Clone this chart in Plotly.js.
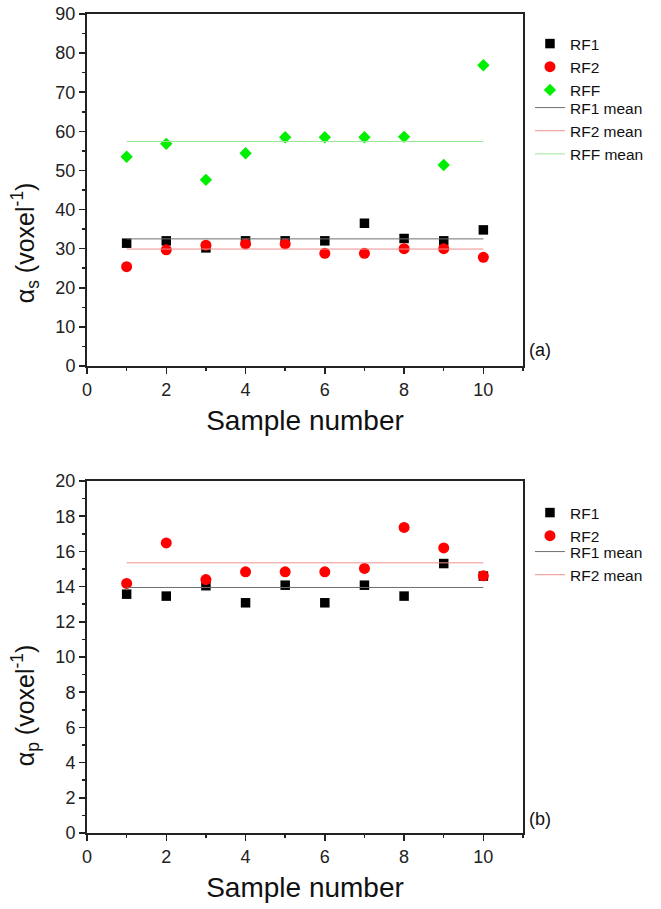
<!DOCTYPE html>
<html>
<head>
<meta charset="utf-8">
<script src="https://cdn.plot.ly/plotly-3.0.1.min.js"></script>
<style>html,body{margin:0;padding:0;background:#fff;}#chart{width:661px;height:909px;}</style>
</head>
<body>
<div id="chart"></div>
<script>
// ---- data ----
const samples = [1, 2, 3, 4, 5, 6, 7, 8, 9, 10];

// (a) alpha_s
const aRF1 = [31.4, 32.0, 30.2, 32.0, 32.0, 32.0, 36.5, 32.6, 32.0, 34.8];
const aRF2 = [25.4, 29.7, 30.9, 31.2, 31.2, 28.8, 28.8, 30.0, 30.0, 27.8];
const aRFF = [53.5, 56.8, 47.6, 54.4, 58.5, 58.5, 58.5, 58.6, 51.4, 76.9];
const aMeans = [32.5, 29.9, 57.4]; // RF1 mean, RF2 mean, RFF mean

// (b) alpha_p
const bRF1 = [13.57, 13.46, 14.05, 13.08, 14.08, 13.08, 14.08, 13.46, 15.31, 14.6];
const bRF2 = [14.18, 16.48, 14.4, 14.84, 14.84, 14.84, 15.03, 17.36, 16.2, 14.61];
const bMeans = [13.95, 15.35]; // RF1 mean, RF2 mean

const seriesNames = ['RF1', 'RF2', 'RFF'];
const meanNames = ['RF1 mean', 'RF2 mean', 'RFF mean'];
const yTitles = ['α<sub>s</sub> (voxel<sup>-1</sup>)', 'α<sub>p</sub> (voxel<sup>-1</sup>)'];
const xTitle = 'Sample number';
const panelLabels = ['(a)', '(b)'];

// ---- styles ----
const FONT = 'Arial, "Liberation Sans", sans-serif';
const sqMarker = {symbol: 'square', size: 9.5, color: '#000'};
const ciMarker = {symbol: 'circle', size: 11, color: '#ff0000'};
const diMarker = {symbol: 'diamond', size: 9.5, color: '#00ee00'};
const meanColors = ['#6f6f6f', '#f08f8f', '#9be89b'];
const lineEnds = [samples[0], samples[samples.length - 1]];

function pts(y, name, marker, xa, ya, leg) {
  return {x: samples, y: y, name: name, type: 'scatter', mode: 'markers', marker: marker,
          xaxis: xa, yaxis: ya, legend: leg};
}
function meanLine(v, name, color, xa, ya, leg) {
  return {x: lineEnds, y: [v, v], name: name, type: 'scatter', mode: 'lines',
          line: {color: color, width: 1}, xaxis: xa, yaxis: ya, legend: leg};
}

const data = [
  pts(aRF1, seriesNames[0], sqMarker, 'x', 'y', 'legend'),
  pts(aRF2, seriesNames[1], ciMarker, 'x', 'y', 'legend'),
  pts(aRFF, seriesNames[2], diMarker, 'x', 'y', 'legend'),
  meanLine(aMeans[0], meanNames[0], meanColors[0], 'x', 'y', 'legend3'),
  meanLine(aMeans[1], meanNames[1], meanColors[1], 'x', 'y', 'legend3'),
  meanLine(aMeans[2], meanNames[2], meanColors[2], 'x', 'y', 'legend3'),
  pts(bRF1, seriesNames[0], sqMarker, 'x2', 'y2', 'legend2'),
  pts(bRF2, seriesNames[1], ciMarker, 'x2', 'y2', 'legend2'),
  meanLine(bMeans[0], meanNames[0], meanColors[0], 'x2', 'y2', 'legend4'),
  meanLine(bMeans[1], meanNames[1], meanColors[1], 'x2', 'y2', 'legend4')
];

const H = 909, T = 14, B = 76, L = 87, R = 136;
const PH = H - T - B, PW = 661 - L - R;
function py(pix) { return (H - B - pix) / PH; }
function px(pix) { return (pix - L) / PW; }

function xaxis(anchor) {
  return {
    domain: [0, 1], range: [0, 11], dtick: 2, tick0: 0, ticks: 'outside', ticklen: 6, tickwidth: 1.5,
    tickcolor: '#222', showline: true, linecolor: '#222', linewidth: 2, mirror: true,
    showgrid: false, zeroline: false, anchor: anchor,
    tickfont: {family: FONT, size: 18, color: '#222'},
    minor: {dtick: 1, ticks: 'outside', ticklen: 3, tickwidth: 1.5, tickcolor: '#222'},
    title: {text: xTitle, font: {family: FONT, size: 28, color: '#111'}, standoff: 12}
  };
}
function yaxis(domain, range, dtick, minor, anchor) {
  return {
    domain: domain, range: range, dtick: dtick, tick0: 0, ticks: 'outside', ticklen: 6,
    tickwidth: 1.5, tickcolor: '#222', showline: true, linecolor: '#222', linewidth: 2,
    mirror: true, showgrid: false, zeroline: false, anchor: anchor,
    tickfont: {family: FONT, size: 18, color: '#222'},
    minor: {dtick: minor, ticks: 'outside', ticklen: 3, tickwidth: 1.5, tickcolor: '#222'}
  };
}

const legendBase = {
  xref: 'paper', yref: 'paper', xanchor: 'left', yanchor: 'top', x: px(532),
  font: {family: FONT, size: 15.5, color: '#111'}, bgcolor: 'rgba(0,0,0,0)',
  tracegroupgap: 0, itemwidth: 30
};

function yTitleAnn(text, ypix) {
  return {text: text, xref: 'paper', yref: 'paper', x: px(25), y: py(ypix), xanchor: 'center',
          yanchor: 'middle', textangle: -90, showarrow: false,
          font: {family: FONT, size: 25, color: '#111'}};
}
function panelAnn(text, ypix) {
  return {text: text, xref: 'paper', yref: 'paper', x: px(529), y: py(ypix), xanchor: 'left',
          yanchor: 'middle', showarrow: false, font: {family: FONT, size: 18, color: '#111'}};
}

const layout = {
  width: 661, height: 909,
  margin: {l: L, r: R, t: T, b: B, pad: 0},
  paper_bgcolor: '#fff', plot_bgcolor: '#fff',
  font: {family: FONT},
  showlegend: true,
  xaxis: xaxis('y'),
  yaxis: yaxis([py(366), 1], [0, 90], 10, 5, 'x'),
  xaxis2: xaxis('y2'),
  yaxis2: yaxis([0, py(481)], [0, 20], 2, 1, 'x2'),
  legend: Object.assign({}, legendBase, {y: py(27)}),
  legend3: Object.assign({}, legendBase, {y: py(91)}),
  legend2: Object.assign({}, legendBase, {y: py(496)}),
  legend4: Object.assign({}, legendBase, {y: py(535)}),
  annotations: [
    yTitleAnn(yTitles[0], 243),
    yTitleAnn(yTitles[1], 705),
    panelAnn(panelLabels[0], 350),
    panelAnn(panelLabels[1], 819)
  ]
};

Plotly.newPlot('chart', data, layout, {displayModeBar: false, staticPlot: true});
</script>
</body>
</html>
